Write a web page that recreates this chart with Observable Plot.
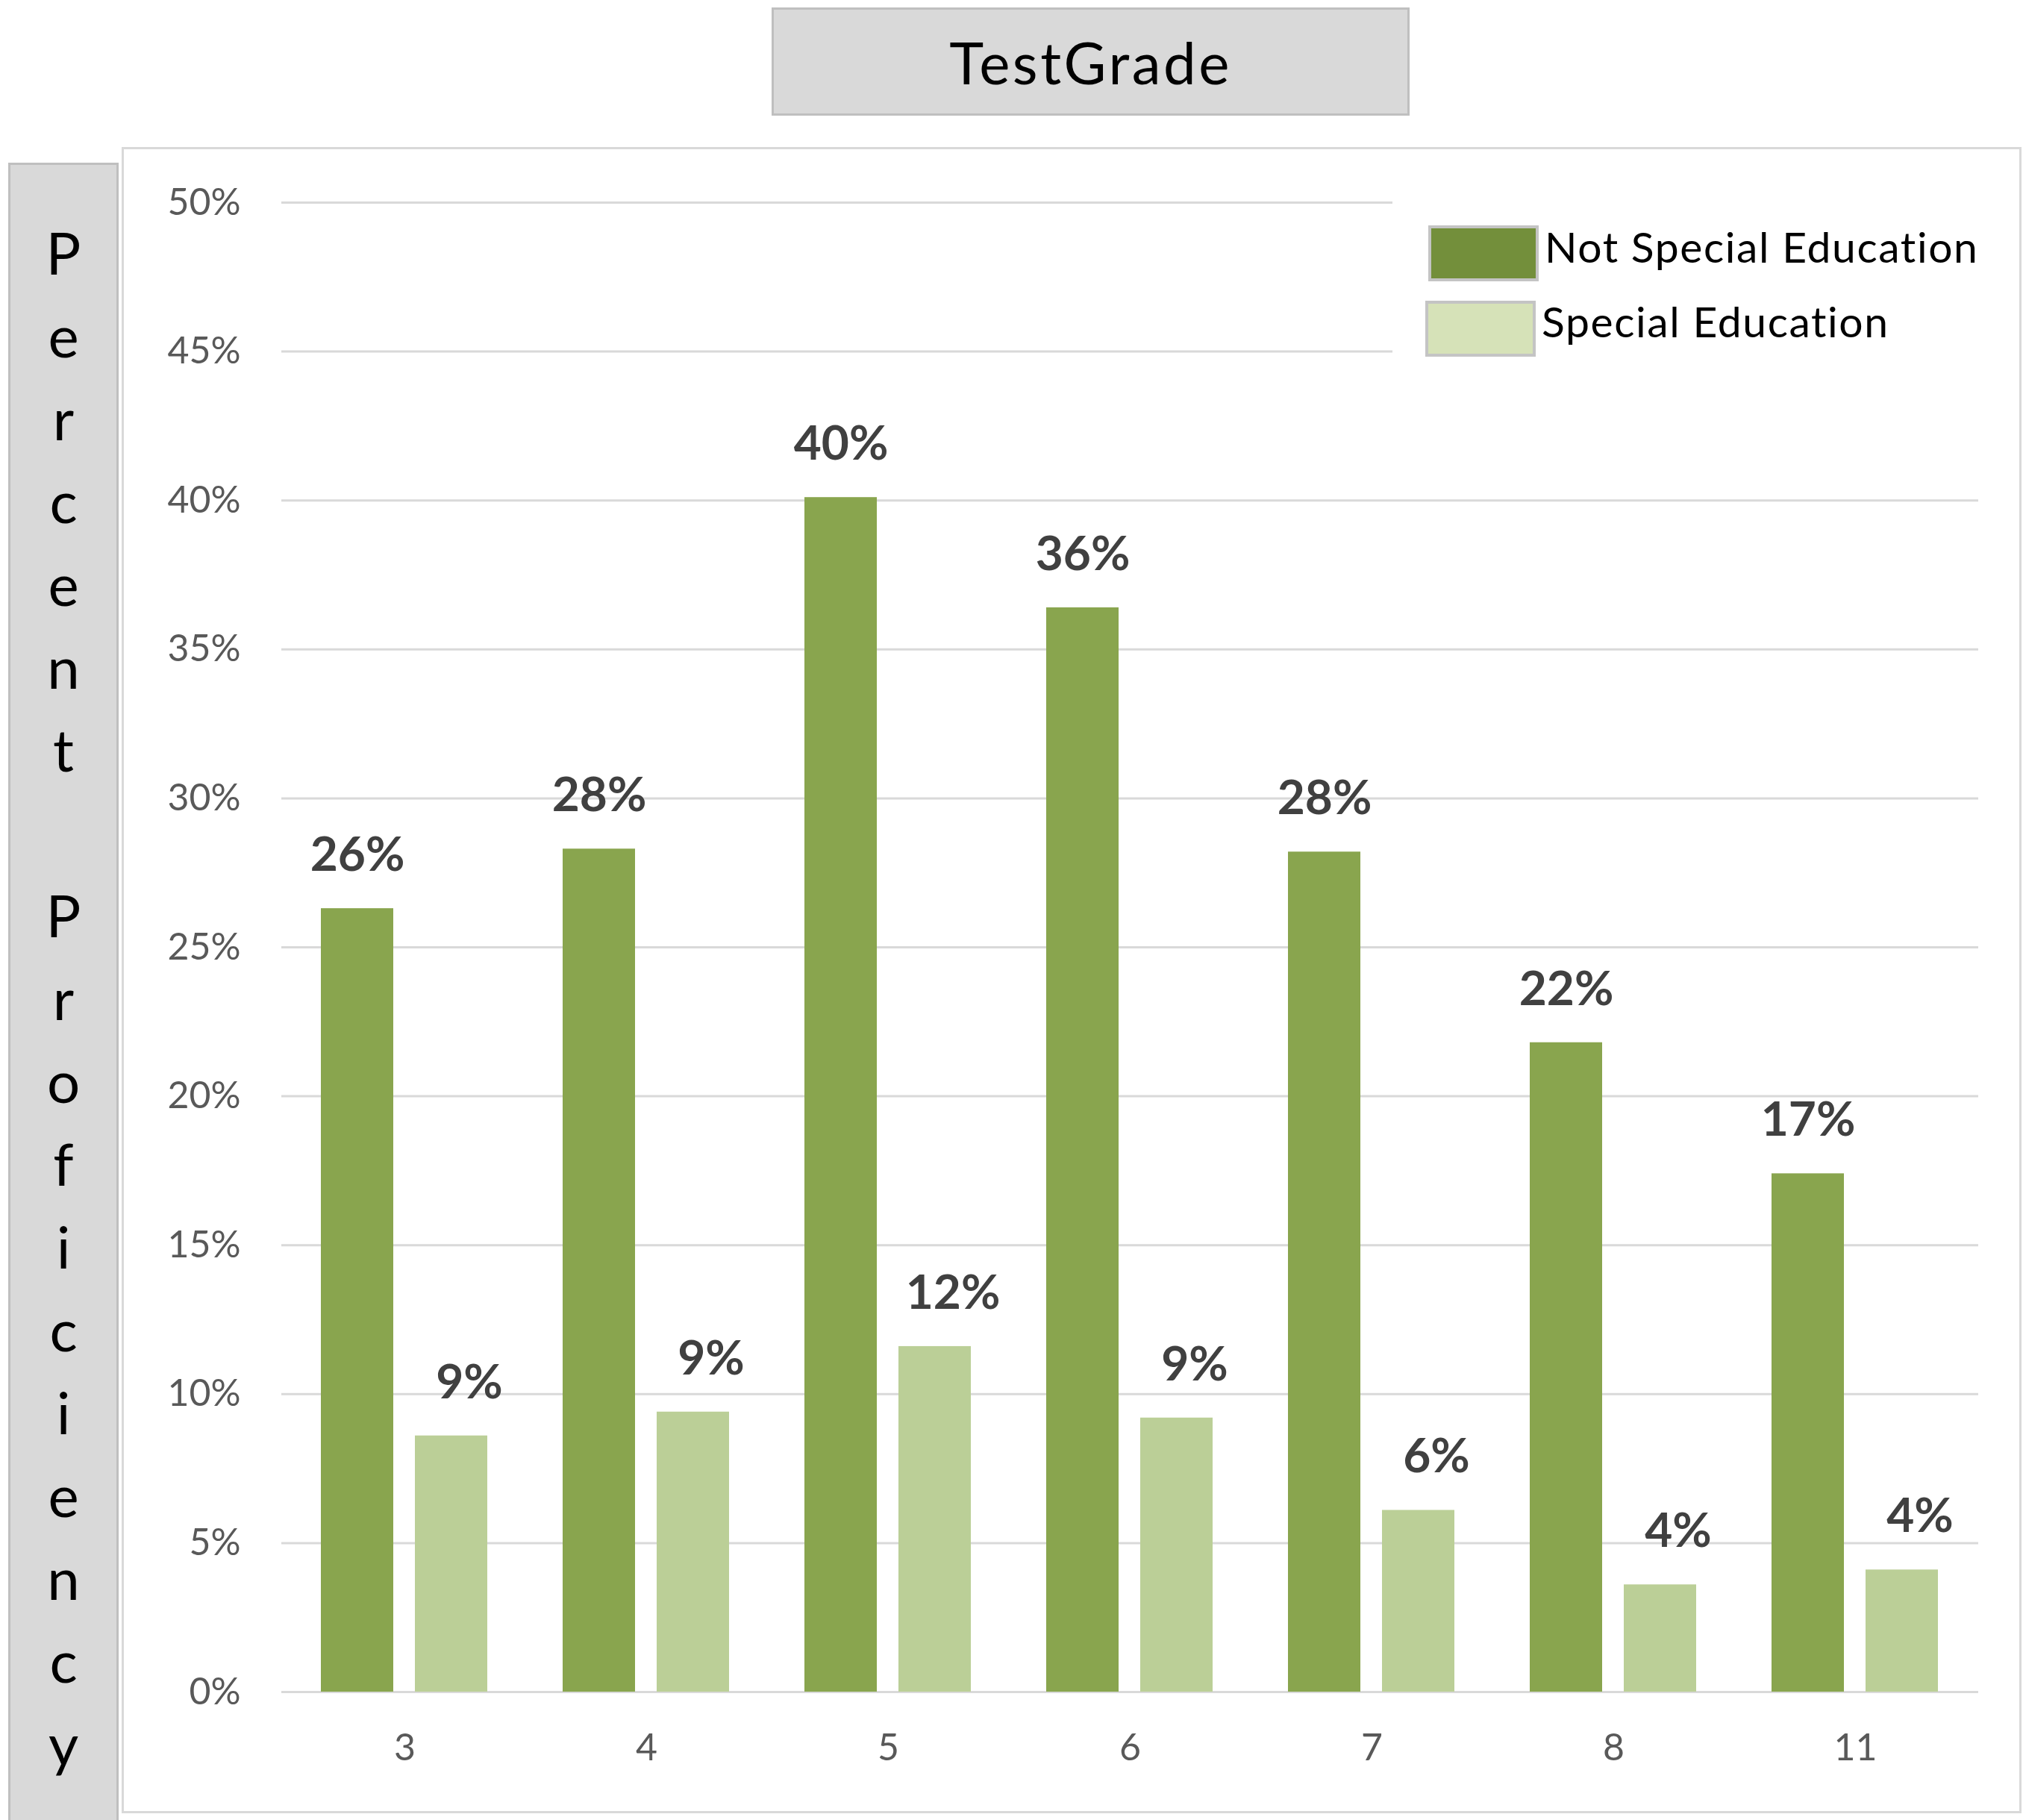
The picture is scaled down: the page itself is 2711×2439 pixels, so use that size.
<!DOCTYPE html>
<html>
<head>
<meta charset="utf-8">
<script src="https://cdn.jsdelivr.net/npm/d3@7"></script>
<script src="https://cdn.jsdelivr.net/npm/@observablehq/plot@0.6"></script>
<style>
  html, body { margin: 0; padding: 0; background: #fff; }
  body { width: 2711px; height: 2439px; position: relative; overflow: hidden; font-family: Lato, "Open Sans", sans-serif; }
  #title { position: absolute; left: 1034px; top: 10px; width: 855px; height: 145px; box-sizing: border-box;
           background: #d9d9d9; border: 3px solid #bfbfbf; display: flex; align-items: center; justify-content: center;
           font-size: 78px; letter-spacing: 3.5px; color: #000; }
  #ylab { position: absolute; left: 11px; top: 218px; width: 148px; height: 2240px; box-sizing: border-box;
          background: #d9d9d9; border: 3px solid #bfbfbf; }
  #ylab .letters { position: absolute; left: 0; top: 62px; width: 142px; text-align: center; font-size: 78px; color: #000; }
  #ylab .letters div { height: 111px; line-height: 111px; }
  #frame { position: absolute; left: 163px; top: 197px; width: 2546px; height: 2233px; box-sizing: border-box; border: 3px solid #d9d9d9; }
  #grid, #chart { position: absolute; left: 163px; top: 199px; }
  #legend { position: absolute; left: 1866px; top: 250px; width: 835px; height: 240px; background: #fff; }
</style>
</head>
<body>
<div id="title">TestGrade</div>
<div id="ylab"><div class="letters" id="letters"></div></div>
<div id="frame"></div>
<div id="grid"></div>
<div id="chart"></div>
<svg id="legend" width="835" height="240"></svg>
<script>
const grades = ["3", "4", "5", "6", "7", "8", "11"];
const series = ["Not Special Education", "Special Education"];
const notSpecialEd = [0.263, 0.283, 0.401, 0.364, 0.282, 0.218, 0.174];
const specialEd = [0.086, 0.094, 0.116, 0.092, 0.061, 0.036, 0.041];
const yTicks = [0, 0.05, 0.10, 0.15, 0.20, 0.25, 0.30, 0.35, 0.40, 0.45, 0.50];
const yTitle = "Percent Proficiency";
const barColors = ["#89a54e", "#bbcf97"];
const legendColors = ["#738f3b", "#d6e2b8"];

const data = [];
grades.forEach((g, i) => {
  data.push({grade: g, series: series[0], value: notSpecialEd[i]});
  data.push({grade: g, series: series[1], value: specialEd[i]});
});
const pct = d3.format(".0%");

// vertical axis title, one letter per line
const lettersDiv = document.getElementById("letters");
for (const ch of yTitle) {
  const d = document.createElement("div");
  d.textContent = ch === " " ? "\u00a0" : ch;
  lettersDiv.appendChild(d);
}

const dims = {width: 2545, height: 2231, marginLeft: 214, marginRight: 57, marginTop: 72, marginBottom: 163};
const font = {fontFamily: "Lato, 'Open Sans', sans-serif", background: "transparent"};

// continuous horizontal gridlines and the y axis (underneath the faceted bars)
const grid = Plot.plot({
  ...dims,
  style: font,
  y: {domain: [0, 0.5], axis: null},
  marks: [
    Plot.ruleY(yTicks, {stroke: "#d9d9d9", strokeWidth: 3}),
    Plot.axisY(yTicks, {tickFormat: pct, tickSize: 0, tickPadding: 55, fill: "#595959", fontSize: 50, label: null})
  ]
});
document.getElementById("grid").appendChild(grid);

const chart = Plot.plot({
  ...dims,
  style: font,
  fx: {domain: grades, paddingInner: 0.308, paddingOuter: 0.154},
  x: {domain: series, paddingInner: 0.228, paddingOuter: 0, axis: null},
  y: {domain: [0, 0.5], axis: null},
  color: {domain: series, range: barColors},
  marks: [
    Plot.axisFx({anchor: "bottom", tickSize: 0, tickPadding: 56, fill: "#595959", fontSize: 50, label: null}),
    Plot.barY(data, {fx: "grade", x: "series", y: "value", fill: "series"}),
    Plot.text(data.filter(d => d.series === series[0]), {
      fx: "grade", x: "series", y: "value", text: d => pct(d.value),
      dy: -71, lineAnchor: "middle", fontSize: 64, fontWeight: "bold", fill: "#404040"
    }),
    Plot.text(data.filter(d => d.series === series[1]), {
      fx: "grade", x: "series", y: "value", text: d => pct(d.value),
      dy: -71, dx: 24, lineAnchor: "middle", fontSize: 64, fontWeight: "bold", fill: "#404040"
    })
  ]
});
document.getElementById("chart").appendChild(chart);

// legend (overlay, white background hides the two top gridlines)
const lg = d3.select("#legend");
const ox = 1866, oy = 250;
const sw = [{x: 1916, y: 304}, {x: 1912, y: 405}];
const tx = [{x: 2070, y: 352}, {x: 2066, y: 452}];
series.forEach((s, i) => {
  lg.append("rect").attr("x", sw[i].x - ox).attr("y", sw[i].y - oy).attr("width", 144).attr("height", 71)
    .attr("fill", legendColors[i]).attr("stroke", "#c4c4c4").attr("stroke-width", 4);
  lg.append("text").attr("x", tx[i].x - ox).attr("y", tx[i].y - oy).attr("font-size", 57)
    .attr("letter-spacing", 1.6)
    .attr("font-family", "Lato, 'Open Sans', sans-serif").attr("fill", "#000").text(s);
});
</script>
</body>
</html>
